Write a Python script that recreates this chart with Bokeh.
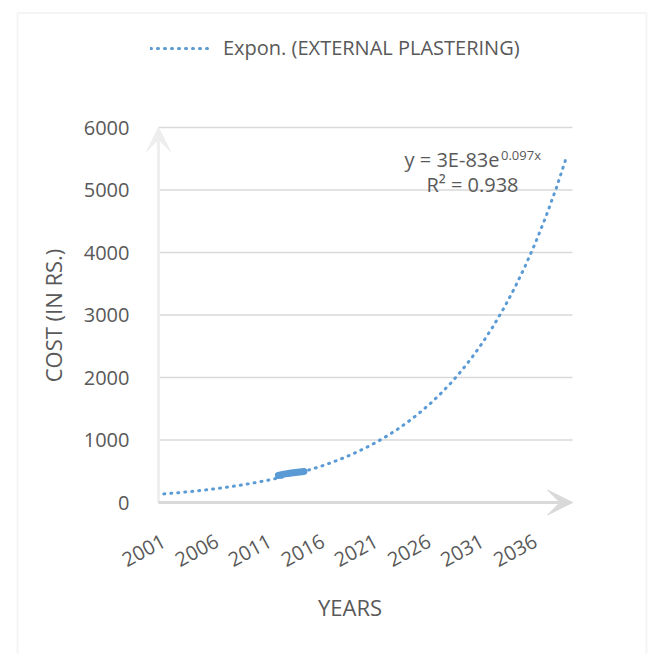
import numpy as np
from bokeh.plotting import figure
from bokeh.models import (Range1d, FixedTicker, Legend, LegendItem, Label, LinearAxis,
                          Arrow, VeeHead, PolyAnnotation)
from bokeh.embed import file_html
from bokeh.resources import INLINE

# ---- data -------------------------------------------------------------
# recorded cost of external plastering (Rs.)
obs_years = [2011.8, 2012.2, 2012.6, 2013.0, 2013.4, 2013.8, 2014.2]
obs_cost = [432, 450, 462, 472, 480, 488, 496]

# fitted exponential trend  y = a * e^(b * year)
trend_a = 3e-83
trend_b = 0.09742
trend_years = list(range(2001, 2040))
trend_cost = [trend_a * np.exp(trend_b * yr) for yr in trend_years]

x_tick_years = [2001, 2006, 2011, 2016, 2021, 2026, 2031, 2036]
y_ticks = [0, 1000, 2000, 3000, 4000, 5000, 6000]

# ---- layout: plot area in pixels and its data limits --------------------
W, H = 649, 654
LEFT, RIGHT, TOP, BOTTOM = 158, 572, 127, 502
X0, X1 = 2000.5, 2039.5
Y0, Y1 = 0, 6000


def xd(px):
    return X0 + (px - LEFT) * (X1 - X0) / (RIGHT - LEFT)


def yd(py):
    return Y0 + (BOTTOM - py) * (Y1 - Y0) / (BOTTOM - TOP)


FONT = "Open Sans"
GREY = "#595959"
BLUE = "#5b9bd5"

# the frame covers the whole canvas; axes are pinned to the plot-area edges
p = figure(width=W, height=H, x_range=Range1d(xd(0), xd(W)), y_range=Range1d(yd(H), yd(0)),
           x_axis_type=None, y_axis_type=None,
           output_backend="svg", toolbar_location=None,
           min_border=0, min_border_left=0, min_border_right=0,
           min_border_top=0, min_border_bottom=0)
p.outline_line_color = None
p.background_fill_color = "white"
p.border_fill_color = "white"

# chart area border
p.add_layout(PolyAnnotation(xs=[xd(17), xd(17), xd(646), xd(646)],
                            ys=[yd(700), yd(12.5), yd(12.5), yd(700)],
                            fill_alpha=0, line_color="#d9d9d9", line_width=2))

# horizontal gridlines
p.segment(x0=X0, y0=y_ticks, x1=X1, y1=y_ticks, line_color="#d9d9d9", line_width=1.5)


def style_axis(ax):
    ax.axis_line_color = None
    ax.major_tick_line_color = None
    ax.minor_tick_line_color = None
    ax.major_label_text_font = FONT
    ax.major_label_text_color = GREY
    ax.major_label_text_font_size = "20px"


yax = LinearAxis(ticker=FixedTicker(ticks=y_ticks), fixed_location=X0)
style_axis(yax)
yax.major_label_standoff = 23
p.add_layout(yax, "left")

xax = LinearAxis(ticker=FixedTicker(ticks=x_tick_years), fixed_location=Y0)
style_axis(xax)
xax.major_label_orientation = 0.5
xax.major_label_standoff = 31
p.add_layout(xax, "below")

# axis titles
p.add_layout(Label(x=xd(349.5), y=yd(606), text="YEARS", text_align="center",
                   text_baseline="alphabetic", text_font=FONT, text_color=GREY,
                   text_font_size="22px"))
p.add_layout(Label(x=xd(52.5), y=yd(315), text="COST (IN RS.)", angle=np.pi / 2,
                   text_align="center", text_baseline="alphabetic", text_font=FONT,
                   text_color=GREY, text_font_size="22px"))

# axis arrows
p.add_layout(Arrow(x_start=X0, y_start=Y0, x_end=X0, y_end=Y1,
                   line_color="#eeeeee", line_width=3,
                   end=VeeHead(size=24, fill_color="#eeeeee", line_color="#eeeeee")))
p.add_layout(Arrow(x_start=X0, y_start=Y0, x_end=X1, y_end=Y0,
                   line_color="#d9d9d9", line_width=3,
                   end=VeeHead(size=25, fill_color="#d9d9d9", line_color="#d9d9d9")))

# trend line and recorded values
trend = p.line(trend_years, trend_cost, line_color=BLUE, line_width=3,
               line_dash="1 6", line_cap="round")
p.line(obs_years, obs_cost, line_color=BLUE, line_width=7, line_cap="round",
       line_join="round")

legend = Legend(items=[LegendItem(label="Expon. (EXTERNAL PLASTERING)", renderers=[trend])],
                location=(150, H - 61), orientation="horizontal",
                glyph_width=60, glyph_height=26, label_standoff=13,
                label_text_font=FONT, label_text_color=GREY, label_text_font_size="20px",
                border_line_color=None, background_fill_alpha=0, padding=0, margin=0,
                spacing=0)
p.add_layout(legend, "center")

# trend equation
p.add_layout(Label(x=xd(499), y=yd(172), text="y = 3E-83e", text_align="right",
                   text_font=FONT, text_color=GREY, text_font_size="20px"))
p.add_layout(Label(x=xd(500.5), y=yd(163), text="0.097x", text_align="left",
                   text_font=FONT, text_color=GREY, text_font_size="13px"))
p.add_layout(Label(x=xd(472), y=yd(197), text="R² = 0.938", text_align="center",
                   text_font=FONT, text_color=GREY, text_font_size="20px"))

open("out.html", "w").write(file_html(p, INLINE))
